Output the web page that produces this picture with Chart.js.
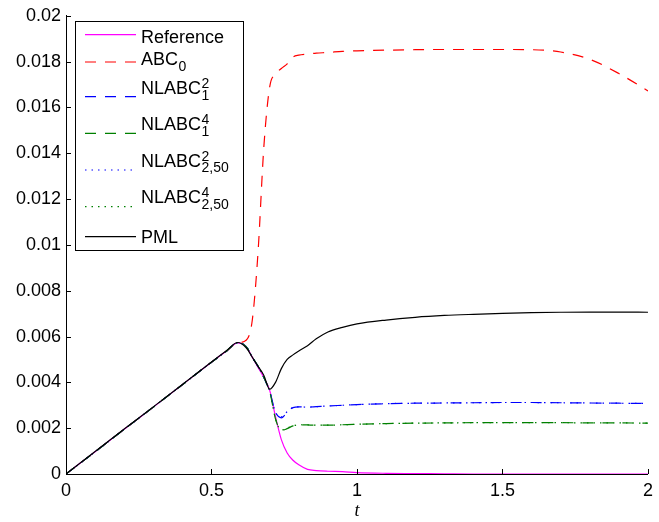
<!DOCTYPE html>
<html>
<head>
<meta charset="utf-8">
<script src="https://cdn.jsdelivr.net/npm/chart.js@4.4.0/dist/chart.umd.min.js"></script>
<style>
  body { margin: 0; background: #fff; }
  canvas { display: block; }
</style>
</head>
<body>
<canvas id="chart" width="659" height="522"></canvas>
<script>
// time samples (denser around the wave leaving the domain)
const tGrid = [0, 0.1, 0.2, 0.3, 0.4, 0.5, 0.55, 0.59, 0.62, 0.64, 0.66, 0.68, 0.7, 0.72, 0.74, 0.76, 0.78,
  0.8, 0.83, 0.86, 0.9, 0.95, 1, 1.1, 1.2, 1.3, 1.4, 1.5, 1.6, 1.7, 1.8, 1.9, 2];

const reference = [0, 0.00097, 0.00195, 0.00292, 0.0039, 0.00488, 0.00535, 0.00572, 0.00555, 0.0051, 0.00465, 0.0042,
  0.00365, 0.0025, 0.0015, 0.00092, 0.0006, 0.0004, 0.0002, 0.00015, 0.00012, 0.0001, 0.00006,
  0.00003, 0.00002, 0.00001, 0, 0, 0, 0, 0, 0, 0];
const abc0 = [0, 0.00097, 0.00195, 0.00292, 0.0039, 0.00488, 0.00535, 0.00572, 0.00585, 0.0067, 0.0097, 0.0143,
  0.0169, 0.01745, 0.0177, 0.0179, 0.0182, 0.01828, 0.01833, 0.01837, 0.0184, 0.01845, 0.01847,
  0.0185, 0.01852, 0.01853, 0.01853, 0.01853, 0.01852, 0.01842, 0.0181, 0.01748, 0.01672];
const nlabc21 = [0, 0.00097, 0.00195, 0.00292, 0.0039, 0.00488, 0.00535, 0.00572, 0.00555, 0.0051, 0.0047, 0.0042,
  0.0036, 0.0027, 0.00245, 0.0027, 0.0029, 0.00293, 0.00292, 0.00294, 0.00297, 0.003, 0.00303,
  0.00307, 0.00309, 0.0031, 0.00311, 0.00312, 0.00312, 0.00311, 0.0031, 0.00309, 0.00308];
const nlabc41 = [0, 0.00097, 0.00195, 0.00292, 0.0039, 0.00488, 0.00535, 0.00572, 0.00555, 0.0051, 0.0047, 0.0042,
  0.0036, 0.0024, 0.0019, 0.00198, 0.0021, 0.00215, 0.00214, 0.00213, 0.00213, 0.00215, 0.00217,
  0.0022, 0.00222, 0.00223, 0.00224, 0.00224, 0.00224, 0.00224, 0.00223, 0.00223, 0.00222];
const nlabc2_250 = [0, 0.00097, 0.00195, 0.00292, 0.0039, 0.00488, 0.00535, 0.00572, 0.00555, 0.0051, 0.0047, 0.0042,
  0.0036, 0.0027, 0.0025, 0.00272, 0.0029, 0.00293, 0.00292, 0.00294, 0.00297, 0.003, 0.00303,
  0.00307, 0.00309, 0.0031, 0.00311, 0.00312, 0.00312, 0.00311, 0.0031, 0.00309, 0.00308];
const nlabc4_250 = [0, 0.00097, 0.00195, 0.00292, 0.0039, 0.00488, 0.00535, 0.00572, 0.00555, 0.0051, 0.0047, 0.0042,
  0.0036, 0.0024, 0.00192, 0.002, 0.0021, 0.00215, 0.00214, 0.00213, 0.00213, 0.00215, 0.00217,
  0.0022, 0.00222, 0.00223, 0.00224, 0.00224, 0.00224, 0.00224, 0.00223, 0.00223, 0.00222];
const pml = [0, 0.00098, 0.00196, 0.00293, 0.00391, 0.00489, 0.00537, 0.00574, 0.0055, 0.0051, 0.0047, 0.0043,
  0.0037, 0.004, 0.0046, 0.005, 0.0052, 0.00537, 0.0056, 0.0059, 0.0062, 0.0064, 0.00655,
  0.00672, 0.00684, 0.00692, 0.00697, 0.00701, 0.00704, 0.00706, 0.00707, 0.00707, 0.00706];

// legend text pieces: base, superscript, subscript
const legendBase = ['Reference', 'ABC', 'NLABC', 'NLABC', 'NLABC', 'NLABC', 'PML'];
const legendSup = ['', '', '2', '4', '2', '4', ''];
const legendSub = ['', '0', '1', '1', '2,50', '2,50', ''];

const xTicks = [0, 0.5, 1, 1.5, 2];
const yTicks = [0, 0.002, 0.004, 0.006, 0.008, 0.01, 0.012, 0.014, 0.016, 0.018, 0.02];

const FONT = 'Liberation Sans, Arial, Helvetica, sans-serif';
const DASHED = [11, 9];
const DOTTED = [1.5, 5];

const series = [
  { values: reference, color: '#ff00ff', dash: [], order: 6 },
  { values: abc0, color: '#ff0000', dash: DASHED, order: 5 },
  { values: nlabc21, color: '#0000ff', dash: DASHED, order: 4 },
  { values: nlabc41, color: '#008000', dash: DASHED, order: 3 },
  { values: nlabc2_250, color: '#0000ff', dash: DOTTED, order: 2 },
  { values: nlabc4_250, color: '#008000', dash: DOTTED, order: 1 },
  { values: pml, color: '#000000', dash: [], order: 0 }
];

// MATLAB style: ticks pointing into the axes, plus the boxed legend
const matlabPlugin = {
  id: 'matlabPlugin',
  afterDraw(chart) {
    const ctx = chart.ctx;
    const xs = chart.scales.x, ys = chart.scales.y;
    const area = chart.chartArea;
    ctx.save();
    ctx.strokeStyle = '#000';
    ctx.lineWidth = 1;
    ctx.beginPath();
    xTicks.forEach(v => {
      const px = Math.round(xs.getPixelForValue(v)) + 0.5;
      ctx.moveTo(px, area.bottom);
      ctx.lineTo(px, area.bottom - 5);
    });
    yTicks.forEach(v => {
      const py = Math.round(ys.getPixelForValue(v)) + 0.5;
      ctx.moveTo(area.left, py);
      ctx.lineTo(area.left + 5, py);
    });
    ctx.stroke();

    // legend
    ctx.fillStyle = '#fff';
    ctx.fillRect(75.5, 21.5, 168, 229);
    ctx.strokeRect(75.5, 21.5, 168, 229);
    const lineY = [34.7, 62, 96.7, 133.3, 170, 206.7, 236.7];
    const baseY = [42.7, 65, 94.3, 130, 166.7, 203.3, 242.7];
    series.forEach((s, i) => {
      ctx.beginPath();
      ctx.strokeStyle = s.color;
      ctx.lineWidth = 1.2;
      ctx.setLineDash(s.dash);
      ctx.moveTo(85, lineY[i]);
      ctx.lineTo(136, lineY[i]);
      ctx.stroke();
      ctx.setLineDash([]);

      ctx.fillStyle = '#000';
      ctx.textBaseline = 'alphabetic';
      ctx.textAlign = 'left';
      ctx.font = '18px ' + FONT;
      ctx.fillText(legendBase[i], 141, baseY[i]);
      const w = ctx.measureText(legendBase[i]).width;
      ctx.font = '14px ' + FONT;
      if (legendSup[i]) ctx.fillText(legendSup[i], 141 + w + 0.5, baseY[i] - 6);
      if (legendSub[i]) ctx.fillText(legendSub[i], 141 + w + 0.5, baseY[i] + 5.7);
    });
    ctx.restore();
  }
};

new Chart(document.getElementById('chart').getContext('2d'), {
  type: 'line',
  data: {
    datasets: series.map(s => ({
      data: tGrid.map((t, i) => ({ x: t, y: s.values[i] })),
      borderColor: s.color,
      borderDash: s.dash,
      borderWidth: 1.2,
      pointRadius: 0,
      fill: false,
      cubicInterpolationMode: 'monotone',
      order: s.order
    }))
  },
  options: {
    responsive: false,
    animation: false,
    devicePixelRatio: 1,
    layout: { padding: { top: 12, right: 6, bottom: 0, left: 0 } },
    plugins: {
      legend: { display: false },
      tooltip: { enabled: false }
    },
    scales: {
      x: {
        type: 'linear',
        min: 0,
        max: 2,
        afterBuildTicks: s => { s.ticks = xTicks.map(v => ({ value: v })); },
        afterFit: s => { s.height = 48; },
        ticks: {
          color: '#000',
          font: { family: FONT, size: 18 },
          padding: 6,
          maxRotation: 0,
          callback: v => String(v)
        },
        grid: { drawOnChartArea: false, drawTicks: false },
        border: { color: '#000', width: 1 },
        title: {
          display: true,
          text: 't',
          color: '#000',
          font: { family: 'Liberation Serif, Times New Roman, serif', size: 18, style: 'italic' },
          padding: { top: 0, bottom: 0 }
        }
      },
      y: {
        type: 'linear',
        min: 0,
        max: 0.02,
        afterBuildTicks: s => { s.ticks = yTicks.map(v => ({ value: v })); },
        afterFit: s => { s.width = 66; },
        ticks: {
          color: '#000',
          font: { family: FONT, size: 18 },
          padding: 5,
          callback: v => String(Number(v.toFixed(3)))
        },
        grid: { drawOnChartArea: false, drawTicks: false },
        border: { color: '#000', width: 1 }
      }
    }
  },
  plugins: [matlabPlugin]
});
</script>
</body>
</html>
